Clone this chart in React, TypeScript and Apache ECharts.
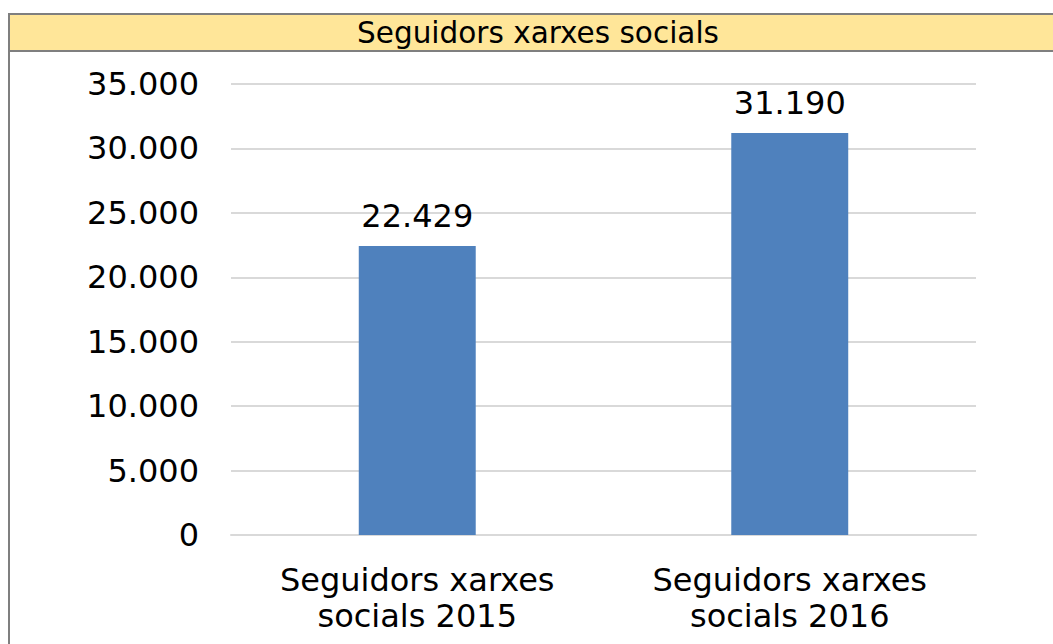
import React, { useEffect, useRef } from "react";
import * as echarts from "echarts";

const titleText = "Seguidors xarxes socials";
const categories = ["Seguidors xarxes\nsocials 2015", "Seguidors xarxes\nsocials 2016"];
const values = [22429, 31190];
const yMax = 35000;
const yInterval = 5000;

const fmt = (v: number) => {
  const s = Math.round(v).toString();
  return s.replace(/\B(?=(\d{3})+(?!\d))/g, ".");
};

export default function App() {
  const ref = useRef<HTMLDivElement>(null);
  useEffect(() => {
    if (!ref.current) return;
    const chart = echarts.init(ref.current, null, { renderer: "svg" });
    const font = "'DejaVu Sans', Verdana, sans-serif";
    chart.setOption({
      animation: false,
      backgroundColor: "#ffffff",
      graphic: [
        { type: "rect", shape: { x: 0, y: 6, width: 1100, height: 37 }, style: { fill: "#FFE699" }, z: 10 },
        { type: "line", shape: { x1: 0, y1: 6, x2: 1100, y2: 6 }, style: { stroke: "#7f7f7f", lineWidth: 2 }, z: 11 },
        { type: "line", shape: { x1: 0, y1: 43, x2: 1100, y2: 43 }, style: { stroke: "#7f7f7f", lineWidth: 2 }, z: 11 },
        { type: "line", shape: { x1: 1, y1: 5, x2: 1, y2: 700 }, style: { stroke: "#7f7f7f", lineWidth: 2 }, z: 11 },
        {
          type: "text",
          x: 530,
          y: 25,
          z: 12,
          style: {
            text: titleText,
            font: `29.5px ${font}`,
            fill: "#000000",
            align: "center",
            verticalAlign: "middle",
          },
        },
      ],
      grid: { left: 223, right: 77, top: 76, bottom: 109, containLabel: false },
      xAxis: {
        type: "category",
        data: categories,
        axisLine: { show: true, lineStyle: { color: "#d9d9d9", width: 2 } },
        axisTick: { show: false },
        axisLabel: {
          color: "#000000",
          fontFamily: font,
          fontSize: 32,
          lineHeight: 36,
          margin: 27,
          interval: 0,
        },
      },
      yAxis: {
        type: "value",
        min: 0,
        max: yMax,
        interval: yInterval,
        axisLine: { show: false },
        axisTick: { show: false },
        splitLine: { lineStyle: { color: "#d9d9d9", width: 2 } },
        axisLabel: {
          color: "#000000",
          fontFamily: font,
          fontSize: 32,
          margin: 32,
          formatter: (v: number) => fmt(v),
        },
      },
      series: [
        {
          type: "bar",
          data: values,
          barWidth: "31.4%",
          itemStyle: { color: "#4F81BD" },
          label: {
            show: true,
            position: "top",
            distance: 15,
            color: "#000000",
            fontFamily: font,
            fontSize: 32,
            lineHeight: 30,
            formatter: (p: any) => fmt(p.value),
          },
        },
      ],
    });
    return () => chart.dispose();
  }, []);
  return (
    <div
      ref={ref}
      style={{ position: "fixed", left: 8, top: 8, width: 1045, height: 636 }}
    />
  );
}
